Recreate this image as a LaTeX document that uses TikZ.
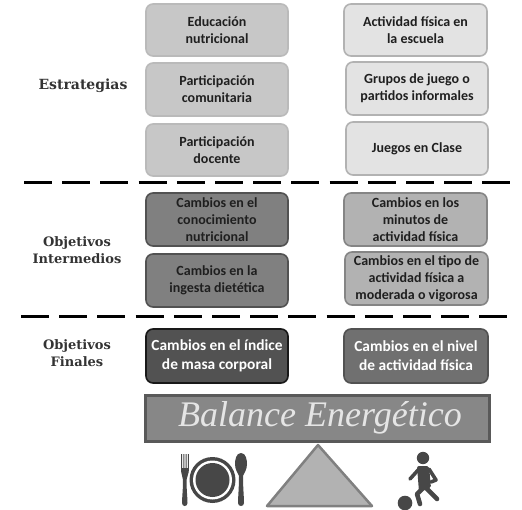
\documentclass[tikz,border=0pt]{standalone}
\usepackage{fontspec}
\setmainfont{Carlito}
\newfontfamily\serifb{Liberation Serif}
\newfontfamily\serifw{DejaVu Serif}
\definecolor{ink}{gray}{0.12}
\definecolor{icon}{gray}{0.28}
\tikzset{
 x=1pt,y=-1pt,
 bx/.style={draw,line width=1.6pt,rounded corners=7pt},
 lab/.style={align=center,font=\fontsize{14}{17}\selectfont\bfseries,text=ink,inner sep=0pt},
 whitelab/.style={lab,text=white,font=\fontsize{15.4}{19}\selectfont\bfseries},
 side/.style={align=center,font=\serifw\fontsize{13}{17}\selectfont\bfseries,text=black!80,inner sep=0pt},
 sep/.style={line width=3pt,dash pattern=on 28pt off 10.2pt},
 limb/.style={draw=icon,line width=4.6pt,line cap=round,line join=round},
}
\newcommand{\bxn}[8]{% name x1 y1 x2 y2 fill border text
 \path[bx,fill=#6,draw=#7] (#2,#3) rectangle (#4,#5);
 \node[lab] (#1) at ({(#2+#4)/2},{(#3+#5)/2}) {#8};}
\begin{document}
\begin{tikzpicture}
\useasboundingbox (0,0) rectangle (522,510);
\bxn{a1}{146}{4}{288}{56}{black!22}{black!27}{Educación\\nutricional}
\bxn{a2}{146}{63}{288}{116}{black!22}{black!27}{Participación\\comunitaria}
\bxn{a3}{146}{124}{288}{176}{black!22}{black!27}{Participación\\docente}
\bxn{b1}{344}{4}{487}{56}{black!11}{black!30}{Actividad física en\\la escuela}
\bxn{b2}{346}{62}{488}{115}{black!11}{black!30}{Grupos de juego o\\partidos informales}
\bxn{b3}{346}{122}{488}{175}{black!11}{black!30}{Juegos en Clase}
\bxn{c1}{146}{193}{288}{246}{black!50}{black!68}{Cambios en el\\conocimiento\\nutricional}
\bxn{c2}{146}{254}{288}{307}{black!50}{black!68}{Cambios en la\\ingesta dietética}
\bxn{d1}{344}{193}{487}{246}{black!30}{black!48}{Cambios en los\\minutos de\\actividad física}
\bxn{d2}{345}{252}{488}{305}{black!30}{black!48}{Cambios en el tipo de\\actividad física a\\moderada o vigorosa}
\path[bx,fill=black!68,draw=black!90] (146,329) rectangle (288,383);
\node[whitelab] (e1) at (217,356) {Cambios en el índice\\de masa corporal};
\path[bx,fill=black!56,draw=black!68] (344,329) rectangle (488,383);
\node[whitelab] (f1) at (416,356) {Cambios en el nivel\\de actividad física};
\node[side,font=\serifw\fontsize{14}{17}\selectfont\bfseries] (s1) at (83,86) {Estrategias};
\node[side] (s2) at (77,250) {Objetivos\\Intermedios};
\node[side] (s3) at (77,353) {Objetivos\\Finales};
\draw[sep] (24,183) -- (513,183);
\draw[sep] (21,317) -- (509,317);
% balance bar
\path[draw=black!65,fill=black!47,line width=3pt] (145.5,395.5) rectangle (489.5,441);
\node[inner sep=0pt,text=black!10,font=\serifb\fontsize{36}{36}\selectfont\itshape] (bal) at (320,418) {Balance Energético};
% fulcrum
\path[draw=black!50,fill=black!30,line width=2.5pt,line join=round] (318,445) -- (267,506) -- (372,506) -- cycle;
% plate
\fill[icon] (212.5,480) circle (23);
\fill[white] (212.5,480) circle (19.5);
\fill[icon] (212.5,480) circle (17);
% fork
\fill[icon] (181,454) rectangle (182,470) (183.3,454) rectangle (184.3,470) (185.6,454) rectangle (186.6,470) (187.9,454) rectangle (188.9,470);
\fill[icon] (181,468) .. controls (181,476) and (183,476) .. (183,480) .. controls (183,490) and (182,498) .. (182,503) .. controls (182,507) and (187.5,507) .. (187.5,503) .. controls (187.5,498) and (186.5,490) .. (186.5,480) .. controls (186.5,476) and (188.9,476) .. (188.9,468) -- cycle;
% spoon
\fill[icon] (241,453) .. controls (236,453) and (235,460) .. (235,464) .. controls (235,470) and (238,473) .. (239,476) .. controls (239,488) and (238,497) .. (238,503) .. controls (238,507) and (244,507) .. (244,503) .. controls (244,497) and (243,488) .. (243,476) .. controls (244,473) and (247,470) .. (247,464) .. controls (247,460) and (246,453) .. (241,453) -- cycle;
% child
\fill[icon] (423,458) circle (6.2);
\fill[icon] (405,503) circle (7.3);
\fill[icon,rounded corners=2pt] (417,466) -- (429,466) -- (431,488) -- (419,492) -- cycle;
\draw[limb,line width=3.6pt] (419,469) -- (410,479);
\draw[limb,line width=3.6pt] (429,469) -- (436,480) -- (431,482);
\draw[limb] (426,488) -- (437,499);
\draw[limb] (422,489) -- (417,494) -- (420,504);
\end{tikzpicture}
\end{document}
